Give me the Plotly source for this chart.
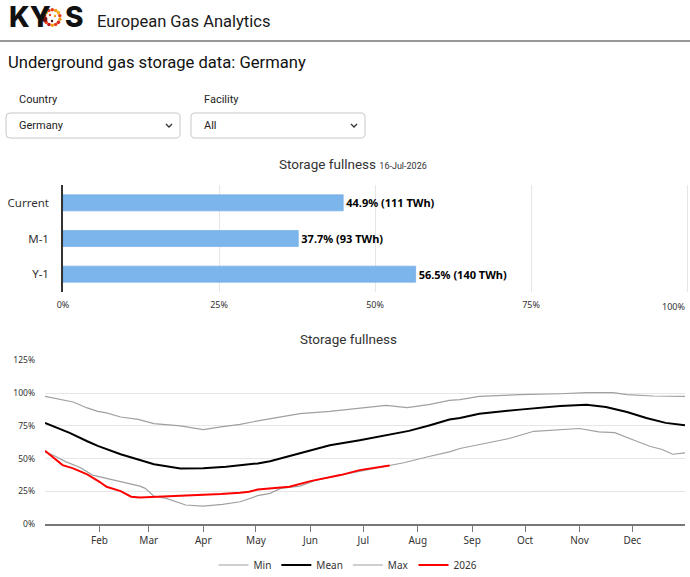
import math
import plotly.graph_objects as go

W, H = 690, 577


def px(x):
    return x / W


def py(y):
    return 1 - y / H


# ---------------- data ----------------
bar_categories = ["Current", "M-1", "Y-1"]
bar_values = [44.9, 37.7, 56.5]
bar_twh = [111, 93, 140]
bar_date = "16-Jul-2026"
bar_ticks = [0, 25, 50, 75, 100]

max_dates = ["2026-01-01", "2026-01-17", "2026-01-25", "2026-01-31", "2026-02-05", "2026-02-13",
             "2026-02-23", "2026-03-04", "2026-03-19", "2026-03-27", "2026-04-01", "2026-04-11",
             "2026-04-22", "2026-05-02", "2026-05-15", "2026-05-26", "2026-06-12", "2026-06-29",
             "2026-07-14", "2026-07-26", "2026-08-08", "2026-08-19", "2026-08-25", "2026-09-05",
             "2026-09-28", "2026-10-21", "2026-11-05", "2026-11-20", "2026-11-28", "2026-12-13",
             "2026-12-31"]
max_values = [97.5, 93.2, 88.7, 86.1, 84.9, 81.8, 80.0, 76.7, 75.0, 73.0, 72.2, 74.2, 76.2, 78.8,
              81.8, 84.3, 86.1, 88.7, 90.7, 88.9, 91.4, 94.5, 95.0, 97.5, 98.8, 99.5, 100.3, 100.3,
              98.8, 97.8, 97.5]

mean_dates = ["2026-01-01", "2026-01-15", "2026-01-25", "2026-01-31", "2026-02-13", "2026-02-24",
              "2026-03-04", "2026-03-19", "2026-04-01", "2026-04-14", "2026-05-02", "2026-05-09",
              "2026-05-26", "2026-06-12", "2026-06-29", "2026-07-16", "2026-07-27", "2026-08-08",
              "2026-08-19", "2026-08-25", "2026-09-05", "2026-09-28", "2026-10-21", "2026-11-05",
              "2026-11-16", "2026-11-28", "2026-12-09", "2026-12-20", "2026-12-31"]
mean_values = [77.3, 69.7, 63.3, 59.8, 53.4, 48.9, 45.8, 42.6, 42.8, 43.8, 46.4, 48.1, 54.0, 60.3,
               64.1, 68.4, 71.2, 75.5, 79.8, 81.0, 84.3, 87.4, 90.2, 91.2, 89.4, 85.6, 81.0, 77.3,
               75.5]

min_dates = ["2026-01-01", "2026-01-06", "2026-01-13", "2026-01-21", "2026-01-28", "2026-02-05",
             "2026-02-13", "2026-02-24", "2026-02-27", "2026-03-04", "2026-03-11", "2026-03-22",
             "2026-04-01", "2026-04-12", "2026-04-22", "2026-05-02", "2026-05-09", "2026-05-15",
             "2026-05-26", "2026-06-04", "2026-06-18", "2026-06-29", "2026-07-16", "2026-07-24",
             "2026-08-08", "2026-08-19", "2026-08-25", "2026-09-05", "2026-09-22", "2026-10-06",
             "2026-10-21", "2026-11-01", "2026-11-12", "2026-11-21", "2026-12-01", "2026-12-11",
             "2026-12-18", "2026-12-24", "2026-12-31"]
min_values = [55.0, 52.4, 47.6, 43.3, 37.5, 35.0, 32.9, 29.1, 27.4, 21.5, 19.8, 14.7, 13.9, 15.2,
              17.2, 21.8, 23.6, 27.4, 29.1, 33.7, 37.5, 40.5, 45.1, 46.9, 51.9, 55.2, 57.8, 61.0,
              65.4, 70.9, 72.4, 73.0, 70.4, 69.9, 64.6, 59.5, 57.0, 53.4, 54.5]

cur_dates = ["2026-01-01", "2026-01-06", "2026-01-11", "2026-01-17", "2026-01-25", "2026-02-01",
             "2026-02-05", "2026-02-13", "2026-02-19", "2026-02-24", "2026-03-07", "2026-03-19",
             "2026-04-01", "2026-04-11", "2026-04-22", "2026-04-27", "2026-05-02", "2026-05-20",
             "2026-06-01", "2026-06-18", "2026-06-29", "2026-07-16"]
cur_values = [56.0, 50.9, 45.1, 42.6, 38.0, 32.4, 28.6, 25.3, 21.0, 20.5, 21.0, 22.0, 22.3, 23.0,
              24.0, 24.8, 26.5, 28.6, 32.9, 37.5, 41.3, 44.9]

month_tick_dates = ["2026-02-01", "2026-03-01", "2026-04-01", "2026-05-01", "2026-06-01",
                    "2026-07-01", "2026-08-01", "2026-09-01", "2026-10-01", "2026-11-01",
                    "2026-12-01"]
month_tick_labels = ["Feb", "Mar", "Apr", "May", "Jun", "Jul", "Aug", "Sep", "Oct", "Nov", "Dec"]
pct_ticks = [0, 25, 50, 75, 100, 125]

FONT = "Noto Sans"
UI = "Roboto"
TXT = "#333333"

fig = go.Figure()

# ---------------- bar chart ----------------
fig.add_trace(go.Bar(
    y=bar_categories, x=bar_values, orientation="h",
    marker=dict(color="#7cb5ec", line=dict(color="#6aa6e2", width=0.6)),
    text=[f"{v}% ({t} TWh)" for v, t in zip(bar_values, bar_twh)],
    textposition="outside", cliponaxis=False,
    textfont=dict(family=FONT, size=11, color="#000000", weight="bold"),
    showlegend=False, hoverinfo="skip",
    xaxis="x", yaxis="y",
))

# ---------------- line chart ----------------
fig.add_trace(go.Scatter(x=min_dates, y=min_values, name="Min", mode="lines",
                         line=dict(color="#a0a0a0", width=1.2), xaxis="x2", yaxis="y2"))
fig.add_trace(go.Scatter(x=mean_dates, y=mean_values, name="Mean", mode="lines",
                         line=dict(color="#000000", width=2), xaxis="x2", yaxis="y2"))
fig.add_trace(go.Scatter(x=max_dates, y=max_values, name="Max", mode="lines",
                         line=dict(color="#a0a0a0", width=1.2), xaxis="x2", yaxis="y2"))
fig.add_trace(go.Scatter(x=cur_dates, y=cur_values, name="2026", mode="lines",
                         line=dict(color="#ff0000", width=2), xaxis="x2", yaxis="y2"))

# the last bar-axis label sits flush against the right edge (kept inside the page)
bar_ticktext = [f"{t}%" for t in bar_ticks]
last_bar_label = bar_ticktext[-1]
bar_ticktext[-1] = ""

shapes = []
annotations = []

# header
annotations.append(dict(text="KY", x=px(6.5), y=py(17.5), xref="paper", yref="paper",
                        xanchor="left", yanchor="middle", showarrow=False,
                        font=dict(family="Inter", size=28, color="#111111", weight=800)))
annotations.append(dict(text="S", x=px(62.5), y=py(17.5), xref="paper", yref="paper",
                        xanchor="left", yanchor="middle", showarrow=False,
                        font=dict(family="Inter", size=28, color="#111111", weight=800)))
dot_colors = ["#e8411f", "#f39c12", "#f5b21a", "#e8411f", "#f39c12", "#d6281b", "#e8411f",
              "#f39c12", "#c0161b", "#e8411f", "#7a1010", "#d6281b", "#f39c12", "#e8411f"]
cx, cy, r = 52.3, 17.5, 7.8
n = len(dot_colors)
for i, c in enumerate(dot_colors):
    a = 2 * math.pi * i / n - math.pi / 2
    dx, dy = cx + r * math.cos(a), cy + r * math.sin(a)
    rad = 2.7 if c == "#7a1010" else 1.8
    shapes.append(dict(type="circle", xref="paper", yref="paper",
                       x0=px(dx - rad), x1=px(dx + rad), y0=py(dy + rad), y1=py(dy - rad),
                       fillcolor=c, line=dict(width=0)))
for (ix, iy, c) in [(50, 15, "#e8411f"), (55, 16, "#f39c12"), (52, 21, "#5a0e0e")]:
    shapes.append(dict(type="circle", xref="paper", yref="paper",
                       x0=px(ix - 1.2), x1=px(ix + 1.2), y0=py(iy + 1.2), y1=py(iy - 1.2),
                       fillcolor=c, line=dict(width=0)))

annotations.append(dict(text="European Gas Analytics", x=px(95), y=py(21.5), xref="paper",
                        yref="paper", xanchor="left", yanchor="middle", showarrow=False,
                        font=dict(family=UI, size=16.5, color="#1a1a1a")))
shapes.append(dict(type="line", xref="paper", yref="paper", x0=0, x1=1, y0=py(41), y1=py(41),
                   line=dict(color="#333333", width=1)))
annotations.append(dict(text="Underground gas storage data: Germany", x=px(6), y=py(63),
                        xref="paper", yref="paper", xanchor="left", yanchor="middle",
                        showarrow=False, font=dict(family=UI, size=16.6, color="#111111")))


def to_paper_path(x0, y0, x1, y1, rr=4):
    def P(x, y):
        return f"{px(x):.5f},{py(y):.5f}"
    path = (f"M {P(x0 + rr, y0)} L {P(x1 - rr, y0)} Q {P(x1, y0)} {P(x1, y0 + rr)} "
            f"L {P(x1, y1 - rr)} Q {P(x1, y1)} {P(x1 - rr, y1)} L {P(x0 + rr, y1)} "
            f"Q {P(x0, y1)} {P(x0, y1 - rr)} L {P(x0, y0 + rr)} Q {P(x0, y0)} {P(x0 + rr, y0)} Z")
    return path


for (label, value, bx0, bx1) in [("Country", "Germany", 6, 180), ("Facility", "All", 191, 365)]:
    annotations.append(dict(text=label, x=px(bx0 + 10.5), y=py(100), xref="paper", yref="paper",
                            xanchor="left", yanchor="middle", showarrow=False,
                            font=dict(family=UI, size=11, color="#222222")))
    shapes.append(dict(type="path", xref="paper", yref="paper",
                       path=to_paper_path(bx0, 113, bx1, 138, 4),
                       line=dict(color="#c4c8cc", width=1), fillcolor="rgba(0,0,0,0)"))
    annotations.append(dict(text=value, x=px(bx0 + 10.5), y=py(126), xref="paper", yref="paper",
                            xanchor="left", yanchor="middle", showarrow=False,
                            font=dict(family=UI, size=11, color="#222222")))
    chx = bx1 - 11
    shapes.append(dict(type="path", xref="paper", yref="paper",
                       path=f"M {px(chx - 3):.5f},{py(124):.5f} L {px(chx):.5f},{py(127):.5f} "
                            f"L {px(chx + 3):.5f},{py(124):.5f}",
                       line=dict(color="#333333", width=1.3)))

# right-most bar-axis label, right-aligned to the page edge as in the reference
annotations.append(dict(text=last_bar_label, x=px(686.5), y=py(306), xref="paper", yref="paper",
                        xanchor="right", yanchor="middle", showarrow=False,
                        font=dict(family=FONT, size=9, color=TXT)))

# bar chart title
annotations.append(dict(text="Storage fullness <span style='font-size:9px'>" + bar_date + "</span>",
                        x=px(277), y=py(164), xref="paper", yref="paper", xanchor="left",
                        yanchor="middle", showarrow=False,
                        font=dict(family=UI, size=13.5, color=TXT)))
# line chart title
annotations.append(dict(text="Storage fullness", x=px(348.5), y=py(339), xref="paper",
                        yref="paper", xanchor="center", yanchor="middle", showarrow=False,
                        font=dict(family=UI, size=13.5, color=TXT)))

fig.update_layout(
    width=W, height=H, margin=dict(l=0, r=0, t=0, b=0, autoexpand=False),
    paper_bgcolor="white", plot_bgcolor="white",
    font=dict(family=FONT, color=TXT),
    bargap=0.55,
    xaxis=dict(domain=[px(63), px(689)], range=[0, 100.3], tickvals=bar_ticks,
               ticktext=bar_ticktext, showgrid=True, gridcolor="#e6e6e6", gridwidth=1,
               zeroline=False, showline=False, ticks="", tickfont=dict(size=9, color=TXT),
               ticklabelstandoff=6, anchor="y", fixedrange=True, automargin=False),
    yaxis=dict(domain=[py(292), py(185)], autorange="reversed", showline=True,
               linecolor="#333333", linewidth=1.5, ticks="", showgrid=False,
               tickfont=dict(size=11.5, color=TXT), ticklabelstandoff=10, anchor="x",
               fixedrange=True, automargin=False),
    xaxis2=dict(domain=[px(45), px(685)], type="date", range=["2026-01-01", "2026-12-31"],
                tickvals=month_tick_dates, ticktext=month_tick_labels, ticks="outside",
                ticklen=6, tickcolor="#777777", tickwidth=1, showline=True,
                linecolor="#777777", linewidth=2, showgrid=False, zeroline=False,
                tickfont=dict(size=10, color=TXT), anchor="y2", automargin=False),
    yaxis2=dict(domain=[py(524.3), py(360.3)], range=[0, 125], tickvals=pct_ticks,
                ticktext=[f"{t}%" for t in pct_ticks], showgrid=True, gridcolor="#e6e6e6",
                gridwidth=1, zeroline=False, showline=False, ticks="",
                tickfont=dict(size=8.5, color=TXT), ticklabelstandoff=9, anchor="x2",
                automargin=False),
    legend=dict(orientation="h", x=px(348), xanchor="center", y=py(565), yanchor="middle",
                font=dict(size=10, color=TXT), bgcolor="rgba(0,0,0,0)", itemwidth=30,
                tracegroupgap=0),
    shapes=shapes, annotations=annotations,
)

# remove the default 8px page margin so the 690x577 figure fills the window exactly
page_fix = """
var gd = document.getElementById('{plot_id}');
document.documentElement.style.margin = '0';
document.body.style.margin = '0';
Plotly.relayout(gd, {'width': 690, 'height': 577});
"""
fig.write_html("out.html", post_script=page_fix)
